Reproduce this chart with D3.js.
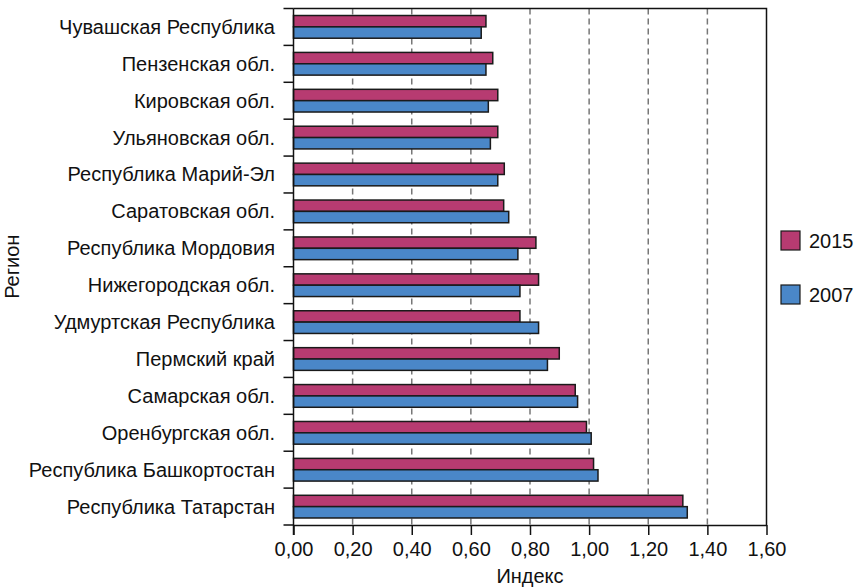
<!DOCTYPE html>
<html><head><meta charset="utf-8">
<script src="https://cdn.jsdelivr.net/npm/d3@7"></script>
<style>body{margin:0;background:#fff}svg{display:block}text{font-family:"Liberation Sans",Arial,sans-serif}</style>
</head><body><svg id="c" width="858" height="588"></svg>
<script>
const regions = ["Чувашская Республика","Пензенская обл.","Кировская обл.","Ульяновская обл.","Республика Марий-Эл","Саратовская обл.","Республика Мордовия","Нижегородская обл.","Удмуртская Республика","Пермский край","Самарская обл.","Оренбургская обл.","Республика Башкортостан","Республика Татарстан"];
const values2015 = [0.651,0.674,0.691,0.691,0.713,0.711,0.820,0.829,0.766,0.899,0.953,0.991,1.015,1.317];
const values2007 = [0.635,0.651,0.659,0.666,0.691,0.728,0.759,0.766,0.829,0.859,0.961,1.007,1.030,1.332];
const seriesNames = ["2015","2007"];
const seriesColors = ["#b73b71","#4a87c8"];
const xTicks = [0,0.2,0.4,0.6,0.8,1.0,1.2,1.4,1.6];

const FS = 20;
const svg = d3.select("#c");
const m = {l:293.5, r:766.5, t:8.5, b:525};
const x = d3.scaleLinear().domain([0,1.6]).range([m.l,m.r]);
const y = d3.scaleBand().domain(regions).range([m.t,m.b]).paddingInner(0.385).paddingOuter(0.19);
const ys = d3.scaleBand().domain(seriesNames).range([0,y.bandwidth()]);
const fmt = v => d3.format(".2f")(v).replace(".",",");

// gridlines
svg.append("g").selectAll("line").data(xTicks.slice(1,-1)).join("line")
  .attr("x1",d=>x(d)).attr("x2",d=>x(d)).attr("y1",m.t).attr("y2",m.b)
  .attr("stroke","#777").attr("stroke-width",1.5).attr("stroke-dasharray","6,4");

// bars
const data = [values2015, values2007];
const g = svg.append("g");
seriesNames.forEach((s,i)=>{
  g.selectAll("rect.s"+i).data(regions).join("rect")
   .attr("x",x(0)).attr("y",(d)=>y(d)+ys(s))
   .attr("width",(d,j)=>x(data[i][j])-x(0)).attr("height",ys.bandwidth())
   .attr("fill",seriesColors[i]).attr("stroke","#1a1a1a").attr("stroke-width",1.5);
});

// frame top/right
svg.append("path").attr("d",`M${m.l},${m.t}H${m.r}V${m.b}`).attr("fill","none").attr("stroke","#111").attr("stroke-width",1.5);

// x axis
const xa = svg.append("g").attr("transform",`translate(0,${m.b})`)
  .call(d3.axisBottom(x).tickValues(xTicks).tickFormat(fmt).tickSize(10).tickSizeOuter(0));
xa.select(".domain").attr("stroke","#111").attr("stroke-width",1.5);
xa.selectAll(".tick line").attr("stroke","#111").attr("stroke-width",1.5);
xa.selectAll("text").attr("font-size",FS).attr("fill","#111").attr("y",12).attr("dy","0.95em").attr("font-family","Liberation Sans, Arial, sans-serif");

// y axis: ticks at band boundaries
const yBounds = regions.map((d,i)=> m.t + i*(m.b-m.t)/regions.length).concat([m.b]);
svg.append("line").attr("x1",m.l).attr("x2",m.l).attr("y1",m.t).attr("y2",m.b+10).attr("stroke","#111").attr("stroke-width",1.5);
svg.append("g").selectAll("line").data(yBounds).join("line")
  .attr("x1",m.l-10).attr("x2",m.l).attr("y1",d=>d).attr("y2",d=>d).attr("stroke","#111").attr("stroke-width",1.5);
svg.append("g").selectAll("text").data(regions).join("text")
  .attr("x",275).attr("y",d=>y(d)+y.bandwidth()/2).attr("dy","0.35em")
  .attr("text-anchor","end").attr("font-size",FS).attr("fill","#111").text(d=>d);

// axis titles
svg.append("text").attr("x",(m.l+m.r)/2).attr("y",583).attr("text-anchor","middle").attr("font-size",FS).attr("fill","#111").text("Индекс");
svg.append("text").attr("transform",`translate(19,${(m.t+m.b)/2}) rotate(-90)`).attr("text-anchor","middle").attr("font-size",FS).attr("fill","#111").text("Регион");

// legend
const lg = svg.append("g").selectAll("g").data(seriesNames).join("g")
  .attr("transform",(d,i)=>`translate(781,${231+i*54})`);
lg.append("rect").attr("width",19).attr("height",19).attr("fill",(d,i)=>seriesColors[i]).attr("stroke","#1a1a1a").attr("stroke-width",1.2);
lg.append("text").attr("x",28).attr("y",10).attr("dy","0.35em").attr("font-size",FS).attr("fill","#111").text(d=>d);
</script></body></html>
